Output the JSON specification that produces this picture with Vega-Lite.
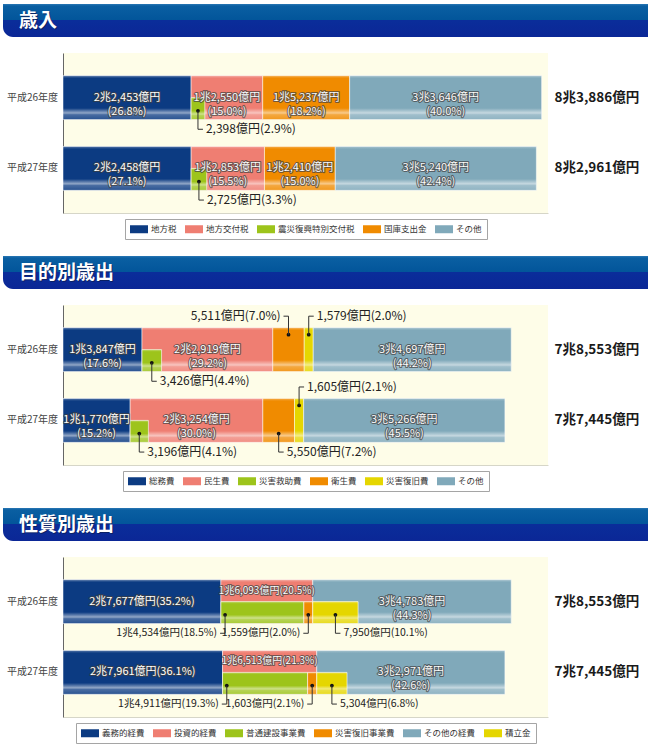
{
  "$schema": "https://vega.github.io/schema/vega-lite/v6.json",
  "description": "Revenue and expenditure composition for FY H26 and H27, three stacked-bar panels.",
  "padding": {"left": 3, "top": 4, "right": 2, "bottom": 0},
  "background": "#ffffff",
  "config": {
    "font": "Noto Sans CJK JP",
    "view": {"stroke": null},
    "legend": {
      "orient": "bottom",
      "direction": "horizontal",
      "symbolType": "M-1,-0.8H2.6V0.8H-1Z",
      "symbolSize": 100,
      "symbolStrokeWidth": 0,
      "labelFontSize": 8.5,
      "labelColor": "#333333",
      "labelOffset": 11,
      "columnPadding": 8,
      "padding": 5,
      "strokeColor": "#a5a5a5",
      "fillColor": "#ffffff",
      "offset": 6,
      "layout": {"bottom": {"anchor": "middle"}}
    }
  },
  "datasets": {
    "rev": [
      {"year": "平成26年度", "cat": "地方税", "value": 22453, "label": "2兆2,453億円\n(26.8%)", "strip": "main"},
      {"year": "平成26年度", "cat": "震災復興特別交付税", "value": 2398, "label": "2,398億円(2.9%)", "strip": "inset"},
      {"year": "平成26年度", "cat": "地方交付税", "value": 12550, "label": "1兆2,550億円\n(15.0%)", "strip": "main"},
      {"year": "平成26年度", "cat": "国庫支出金", "value": 15237, "label": "1兆5,237億円\n(18.2%)", "strip": "main"},
      {"year": "平成26年度", "cat": "その他", "value": 33646, "label": "3兆3,646億円\n(40.0%)", "strip": "main"},
      {"year": "平成27年度", "cat": "地方税", "value": 22458, "label": "2兆2,458億円\n(27.1%)", "strip": "main"},
      {"year": "平成27年度", "cat": "震災復興特別交付税", "value": 2725, "label": "2,725億円(3.3%)", "strip": "inset"},
      {"year": "平成27年度", "cat": "地方交付税", "value": 12853, "label": "1兆2,853億円\n(15.5%)", "strip": "main"},
      {"year": "平成27年度", "cat": "国庫支出金", "value": 12410, "label": "1兆2,410億円\n(15.0%)", "strip": "main"},
      {"year": "平成27年度", "cat": "その他", "value": 35240, "label": "3兆5,240億円\n(42.4%)", "strip": "main"}
    ],
    "revTotal": [
      {"year": "平成26年度", "total": 83886, "totalLabel": "8兆3,886億円"},
      {"year": "平成27年度", "total": 82961, "totalLabel": "8兆2,961億円"}
    ],
    "exp": [
      {"year": "平成26年度", "cat": "総務費", "value": 13847, "label": "1兆3,847億円\n(17.6%)", "strip": "main"},
      {"year": "平成26年度", "cat": "災害救助費", "value": 3426, "label": "3,426億円(4.4%)", "strip": "inset"},
      {"year": "平成26年度", "cat": "民生費", "value": 22919, "label": "2兆2,919億円\n(29.2%)", "strip": "main"},
      {"year": "平成26年度", "cat": "衛生費", "value": 5511, "label": "5,511億円(7.0%)", "strip": "main"},
      {"year": "平成26年度", "cat": "災害復旧費", "value": 1579, "label": "1,579億円(2.0%)", "strip": "main"},
      {"year": "平成26年度", "cat": "その他", "value": 34697, "label": "3兆4,697億円\n(44.2%)", "strip": "main"},
      {"year": "平成27年度", "cat": "総務費", "value": 11770, "label": "1兆1,770億円\n(15.2%)", "strip": "main"},
      {"year": "平成27年度", "cat": "災害救助費", "value": 3196, "label": "3,196億円(4.1%)", "strip": "inset"},
      {"year": "平成27年度", "cat": "民生費", "value": 23254, "label": "2兆3,254億円\n(30.0%)", "strip": "main"},
      {"year": "平成27年度", "cat": "衛生費", "value": 5550, "label": "5,550億円(7.2%)", "strip": "main"},
      {"year": "平成27年度", "cat": "災害復旧費", "value": 1605, "label": "1,605億円(2.1%)", "strip": "main"},
      {"year": "平成27年度", "cat": "その他", "value": 35266, "label": "3兆5,266億円\n(45.5%)", "strip": "main"}
    ],
    "expTotal": [
      {"year": "平成26年度", "total": 78553, "totalLabel": "7兆8,553億円"},
      {"year": "平成27年度", "total": 77445, "totalLabel": "7兆7,445億円"}
    ],
    "nat": [
      {"year": "平成26年度", "cat": "義務的経費", "value": 27677, "label": "2兆7,677億円(35.2%)", "strip": "main"},
      {"year": "平成26年度", "cat": "普通建設事業費", "value": 14534, "label": "1兆4,534億円(18.5%)", "strip": "inset"},
      {"year": "平成26年度", "cat": "災害復旧事業費", "value": 1559, "label": "1,559億円(2.0%)", "strip": "inset"},
      {"year": "平成26年度", "cat": "投資的経費", "value": 16093, "label": "1兆6,093億円(20.5%)", "strip": "main"},
      {"year": "平成26年度", "cat": "積立金", "value": 7950, "label": "7,950億円(10.1%)", "strip": "inset"},
      {"year": "平成26年度", "cat": "その他の経費", "value": 34783, "label": "3兆4,783億円\n(44.3%)", "strip": "main"},
      {"year": "平成27年度", "cat": "義務的経費", "value": 27961, "label": "2兆7,961億円(36.1%)", "strip": "main"},
      {"year": "平成27年度", "cat": "普通建設事業費", "value": 14911, "label": "1兆4,911億円(19.3%)", "strip": "inset"},
      {"year": "平成27年度", "cat": "災害復旧事業費", "value": 1603, "label": "1,603億円(2.1%)", "strip": "inset"},
      {"year": "平成27年度", "cat": "投資的経費", "value": 16513, "label": "1兆6,513億円(21.3%)", "strip": "main"},
      {"year": "平成27年度", "cat": "積立金", "value": 5304, "label": "5,304億円(6.8%)", "strip": "inset"},
      {"year": "平成27年度", "cat": "その他の経費", "value": 32971, "label": "3兆2,971億円\n(42.6%)", "strip": "main"}
    ],
    "natTotal": [
      {"year": "平成26年度", "total": 78553, "totalLabel": "7兆8,553億円"},
      {"year": "平成27年度", "total": 77445, "totalLabel": "7兆7,445億円"}
    ]
  },
  "spacing": 16,
  "vconcat": [
    {
      "width": 645, "height": 33,
      "data": {"values": [{"section": "歳入"}]},
      "layer": [
        {"mark": {"type": "rect", "cornerRadiusBottomLeft": 10, "fill": {"gradient": "linear", "x1": 0, "y1": 0, "x2": 0, "y2": 1, "stops": [{"offset": 0, "color": "#2a78b4"}, {"offset": 0.06, "color": "#0a5fa2"}, {"offset": 0.49, "color": "#02559a"}, {"offset": 0.5, "color": "#0a2d9a"}, {"offset": 1, "color": "#0b2796"}]}}, "encoding": {}},
        {"mark": {"type": "rect", "cornerRadiusBottomLeft": 10, "fill": {"gradient": "radial", "x1": 0.78, "y1": 0.8, "r1": 0, "x2": 0.78, "y2": 0.8, "r2": 0.2, "stops": [{"offset": 0, "color": "rgba(0,195,255,1)"}, {"offset": 0.4, "color": "rgba(0,140,235,0.65)"}, {"offset": 1, "color": "rgba(10,50,180,0)"}]}}, "encoding": {}},
        {"mark": {"type": "text", "align": "left", "baseline": "middle", "dx": 17, "dy": 1.5, "fontSize": 19, "fontWeight": "bold", "fill": "#0b1f5c", "opacity": 0.85}, "encoding": {"x": {"field": "section", "type": "nominal", "bandPosition": 0, "scale": {"type": "band", "paddingInner": 0, "paddingOuter": 0}, "axis": null}, "text": {"field": "section"}}},
        {"mark": {"type": "text", "align": "left", "baseline": "middle", "dx": 16, "fontSize": 19, "fontWeight": "bold", "fill": "#ffffff"}, "encoding": {"x": {"field": "section", "type": "nominal", "bandPosition": 0}, "text": {"field": "section"}}}
      ]
    },
    {
      "spacing": 0,
      "resolve": {"scale": {"y": "independent", "color": "independent"}, "legend": {"color": "independent"}},
      "hconcat": [
        {
          "width": 59, "height": 160,
          "data": {"name": "revTotal"},
          "mark": {"type": "text", "fontSize": 10, "fill": "#444444"},
          "encoding": {"y": {"field": "year", "type": "nominal", "scale": {"type": "band", "paddingInner": 0.38, "paddingOuter": 0.32}, "axis": null}, "text": {"field": "year"}}
        },
        {
          "width": 485, "height": 160,
          "view": {"fill": "#fefde8", "stroke": null},
          "resolve": {"scale": {"y": "independent"}, "axis": {"y": "independent"}},
          "layer": [
            {
              "data": {"name": "rev"},
              "transform": [{"window": [{"op": "row_number", "as": "idx"}], "groupby": ["year"]}],
              "layer": [
                {
                  "transform": [{"filter": "datum.strip === 'main'"}],
                  "mark": {"type": "bar", "opacity": 1, "stroke": "#ffffff", "strokeWidth": 1, "strokeOpacity": 0.5},
                  "encoding": {
                    "x": {"field": "value", "type": "quantitative", "stack": "zero", "scale": {"domain": [0, 85000], "nice": false}, "axis": {"labels": false, "ticks": false, "grid": false, "title": null, "domainColor": "#d6d6c8"}},
                    "y": {"field": "year", "type": "nominal", "scale": {"paddingInner": 0.38, "paddingOuter": 0.32}, "axis": {"labels": false, "ticks": false, "title": null, "domainColor": "#666666"}},
                    "color": {"field": "cat", "type": "nominal", "scale": {"domain": ["地方税", "地方交付税", "震災復興特別交付税", "国庫支出金", "その他"], "range": ["#0c3b82", "#ef7e72", "#9dc41b", "#f08b00", "#80a9ba"]}, "legend": {"title": null}},
                    "order": {"field": "idx", "type": "quantitative"}
                  }
                },
                {
                  "transform": [{"filter": "datum.strip === 'main'"}],
                  "mark": {"type": "bar", "fill": {"gradient": "linear", "x1": 0, "y1": 0, "x2": 0, "y2": 1, "stops": [{"offset": 0, "color": "rgba(255,255,255,0.3)"}, {"offset": 0.06, "color": "rgba(255,255,255,0)"}, {"offset": 0.74, "color": "rgba(255,255,255,0)"}, {"offset": 0.85, "color": "rgba(255,255,255,0.55)"}, {"offset": 0.89, "color": "rgba(255,255,255,0.25)"}, {"offset": 1, "color": "rgba(255,255,255,0.12)"}]}},
                  "encoding": {"x": {"field": "value", "type": "quantitative", "stack": "zero"}, "y": {"field": "year", "type": "nominal"}, "detail": {"field": "cat", "type": "nominal"}, "order": {"field": "idx", "type": "quantitative"}}
                },
                {
                  "transform": [{"filter": "datum.strip === 'inset' || datum.cat === '地方税'"}],
                  "mark": {"type": "bar", "stroke": "#ffffff", "strokeWidth": 1, "strokeOpacity": 0.6},
                  "encoding": {"x": {"field": "value", "type": "quantitative", "stack": "zero"}, "y": {"field": "year", "type": "nominal"}, "yOffset": {"datum": "inset", "type": "nominal", "scale": {"domain": ["main", "inset"], "paddingInner": 0, "paddingOuter": 0}}, "color": {"field": "cat", "type": "nominal"}, "order": {"field": "idx", "type": "quantitative"}, "opacity": {"condition": {"test": "datum.strip === 'main'", "value": 0}, "value": 1}}
                },
                {
                  "transform": [{"filter": "datum.strip === 'inset' || datum.cat === '地方税'"}],
                  "mark": {"type": "bar", "fill": {"gradient": "linear", "x1": 0, "y1": 0, "x2": 0, "y2": 1, "stops": [{"offset": 0, "color": "rgba(255,255,255,0.3)"}, {"offset": 0.1, "color": "rgba(255,255,255,0)"}, {"offset": 0.6, "color": "rgba(255,255,255,0)"}, {"offset": 0.75, "color": "rgba(255,255,255,0.5)"}, {"offset": 0.82, "color": "rgba(255,255,255,0.25)"}, {"offset": 1, "color": "rgba(255,255,255,0.12)"}]}},
                  "encoding": {"x": {"field": "value", "type": "quantitative", "stack": "zero"}, "y": {"field": "year", "type": "nominal"}, "yOffset": {"datum": "inset", "type": "nominal"}, "detail": {"field": "cat", "type": "nominal"}, "order": {"field": "idx", "type": "quantitative"}, "opacity": {"condition": {"test": "datum.strip === 'main'", "value": 0}, "value": 1}}
                },
                {
                  "transform": [{"filter": "datum.strip === 'main'"}],
                  "mark": {"type": "text", "lineBreak": "\n", "lineHeight": 14, "fontSize": 11, "baseline": "middle", "fill": "#404040", "stroke": "#404040", "strokeWidth": 2.2, "strokeJoin": "round", "strokeOpacity": 0.7},
                  "encoding": {"x": {"field": "value", "type": "quantitative", "stack": "zero", "bandPosition": 0.5}, "y": {"field": "year", "type": "nominal"}, "detail": {"field": "cat", "type": "nominal"}, "order": {"field": "idx", "type": "quantitative"}, "text": {"field": "label"}}
                },
                {
                  "transform": [{"filter": "datum.strip === 'main'"}],
                  "mark": {"type": "text", "lineBreak": "\n", "lineHeight": 14, "fontSize": 11, "baseline": "middle", "fill": "#ffffff"},
                  "encoding": {"x": {"field": "value", "type": "quantitative", "stack": "zero", "bandPosition": 0.5}, "y": {"field": "year", "type": "nominal"}, "detail": {"field": "cat", "type": "nominal"}, "order": {"field": "idx", "type": "quantitative"}, "text": {"field": "label"}}
                },
                {
                  "transform": [{"filter": "datum.strip === 'inset' || datum.cat === '地方税'"}],
                  "mark": {"type": "point", "shape": "circle", "filled": true, "fill": "#111111", "size": 14, "strokeWidth": 0},
                  "encoding": {"x": {"field": "value", "type": "quantitative", "stack": "zero", "bandPosition": 0.5}, "y": {"field": "year", "type": "nominal", "bandPosition": 0.8}, "detail": {"field": "cat", "type": "nominal"}, "order": {"field": "idx", "type": "quantitative"}, "opacity": {"condition": {"test": "datum.strip === 'inset'", "value": 1}, "value": 0}}
                },
                {
                  "transform": [{"filter": "datum.strip === 'inset' || datum.cat === '地方税'"}],
                  "mark": {"type": "point", "shape": "M0,0V1H0.27", "filled": false, "stroke": "#333333", "strokeWidth": 1, "size": 1369},
                  "encoding": {"x": {"field": "value", "type": "quantitative", "stack": "zero", "bandPosition": 0.5}, "y": {"field": "year", "type": "nominal", "bandPosition": 0.8}, "detail": {"field": "cat", "type": "nominal"}, "order": {"field": "idx", "type": "quantitative"}, "opacity": {"condition": {"test": "datum.strip === 'inset'", "value": 1}, "value": 0}}
                },
                {
                  "transform": [{"filter": "datum.strip === 'inset' || datum.cat === '地方税'"}],
                  "mark": {"type": "text", "align": "left", "baseline": "middle", "dx": 8, "fontSize": 12, "fill": "#222222"},
                  "encoding": {"x": {"field": "value", "type": "quantitative", "stack": "zero", "bandPosition": 0.5}, "y": {"field": "year", "type": "nominal", "bandPosition": 1.22}, "detail": {"field": "cat", "type": "nominal"}, "order": {"field": "idx", "type": "quantitative"}, "text": {"field": "label", "condition": {"test": "datum.strip === 'main'", "value": ""}}}
                }
              ]
            },
            {
              "data": {"name": "revTotal"},
              "mark": {"type": "bar", "opacity": 0},
              "encoding": {"y": {"field": "totalLabel", "type": "nominal", "sort": null, "scale": {"paddingInner": 0.38, "paddingOuter": 0.32}, "axis": {"orient": "right", "title": null, "ticks": false, "domain": false, "labelPadding": 6, "labelFontSize": 13.5, "labelFontWeight": "bold", "labelColor": "#1a1a1a"}}}
            }
          ]
        }
      ]
    },
    {
      "width": 645, "height": 33,
      "data": {"values": [{"section": "目的別歳出"}]},
      "layer": [
        {"mark": {"type": "rect", "cornerRadiusBottomLeft": 10, "fill": {"gradient": "linear", "x1": 0, "y1": 0, "x2": 0, "y2": 1, "stops": [{"offset": 0, "color": "#2a78b4"}, {"offset": 0.06, "color": "#0a5fa2"}, {"offset": 0.49, "color": "#02559a"}, {"offset": 0.5, "color": "#0a2d9a"}, {"offset": 1, "color": "#0b2796"}]}}, "encoding": {}},
        {"mark": {"type": "rect", "cornerRadiusBottomLeft": 10, "fill": {"gradient": "radial", "x1": 0.78, "y1": 0.8, "r1": 0, "x2": 0.78, "y2": 0.8, "r2": 0.2, "stops": [{"offset": 0, "color": "rgba(0,195,255,1)"}, {"offset": 0.4, "color": "rgba(0,140,235,0.65)"}, {"offset": 1, "color": "rgba(10,50,180,0)"}]}}, "encoding": {}},
        {"mark": {"type": "text", "align": "left", "baseline": "middle", "dx": 17, "dy": 1.5, "fontSize": 19, "fontWeight": "bold", "fill": "#0b1f5c", "opacity": 0.85}, "encoding": {"x": {"field": "section", "type": "nominal", "bandPosition": 0, "scale": {"type": "band", "paddingInner": 0, "paddingOuter": 0}, "axis": null}, "text": {"field": "section"}}},
        {"mark": {"type": "text", "align": "left", "baseline": "middle", "dx": 16, "fontSize": 19, "fontWeight": "bold", "fill": "#ffffff"}, "encoding": {"x": {"field": "section", "type": "nominal", "bandPosition": 0}, "text": {"field": "section"}}}
      ]
    },
    {
      "spacing": 0,
      "resolve": {"scale": {"y": "independent", "color": "independent"}, "legend": {"color": "independent"}},
      "hconcat": [
        {
          "width": 59, "height": 160,
          "data": {"name": "expTotal"},
          "mark": {"type": "text", "fontSize": 10, "fill": "#444444"},
          "encoding": {"y": {"field": "year", "type": "nominal", "scale": {"type": "band", "paddingInner": 0.38, "paddingOuter": 0.32}, "axis": null}, "text": {"field": "year"}}
        },
        {
          "width": 485, "height": 160,
          "view": {"fill": "#fefde8", "stroke": null},
          "resolve": {"scale": {"y": "independent"}, "axis": {"y": "independent"}},
          "layer": [
            {
              "data": {"name": "exp"},
              "transform": [{"window": [{"op": "row_number", "as": "idx"}], "groupby": ["year"]}],
              "layer": [
                {
                  "transform": [{"filter": "datum.strip === 'main'"}],
                  "mark": {"type": "bar", "opacity": 1, "stroke": "#ffffff", "strokeWidth": 1, "strokeOpacity": 0.5},
                  "encoding": {
                    "x": {"field": "value", "type": "quantitative", "stack": "zero", "scale": {"domain": [0, 85000], "nice": false}, "axis": {"labels": false, "ticks": false, "grid": false, "title": null, "domainColor": "#d6d6c8"}},
                    "y": {"field": "year", "type": "nominal", "scale": {"paddingInner": 0.38, "paddingOuter": 0.32}, "axis": {"labels": false, "ticks": false, "title": null, "domainColor": "#666666"}},
                    "color": {"field": "cat", "type": "nominal", "scale": {"domain": ["総務費", "民生費", "災害救助費", "衛生費", "災害復旧費", "その他"], "range": ["#0c3b82", "#ef7e72", "#9dc41b", "#f08b00", "#e5d600", "#80a9ba"]}, "legend": {"title": null}},
                    "order": {"field": "idx", "type": "quantitative"}
                  }
                },
                {
                  "transform": [{"filter": "datum.strip === 'main'"}],
                  "mark": {"type": "bar", "fill": {"gradient": "linear", "x1": 0, "y1": 0, "x2": 0, "y2": 1, "stops": [{"offset": 0, "color": "rgba(255,255,255,0.3)"}, {"offset": 0.06, "color": "rgba(255,255,255,0)"}, {"offset": 0.74, "color": "rgba(255,255,255,0)"}, {"offset": 0.85, "color": "rgba(255,255,255,0.55)"}, {"offset": 0.89, "color": "rgba(255,255,255,0.25)"}, {"offset": 1, "color": "rgba(255,255,255,0.12)"}]}},
                  "encoding": {"x": {"field": "value", "type": "quantitative", "stack": "zero"}, "y": {"field": "year", "type": "nominal"}, "detail": {"field": "cat", "type": "nominal"}, "order": {"field": "idx", "type": "quantitative"}}
                },
                {
                  "transform": [{"filter": "datum.strip === 'inset' || datum.cat === '総務費'"}],
                  "mark": {"type": "bar", "stroke": "#ffffff", "strokeWidth": 1, "strokeOpacity": 0.6},
                  "encoding": {"x": {"field": "value", "type": "quantitative", "stack": "zero"}, "y": {"field": "year", "type": "nominal"}, "yOffset": {"datum": "inset", "type": "nominal", "scale": {"domain": ["main", "inset"], "paddingInner": 0, "paddingOuter": 0}}, "color": {"field": "cat", "type": "nominal"}, "order": {"field": "idx", "type": "quantitative"}, "opacity": {"condition": {"test": "datum.strip === 'main'", "value": 0}, "value": 1}}
                },
                {
                  "transform": [{"filter": "datum.strip === 'inset' || datum.cat === '総務費'"}],
                  "mark": {"type": "bar", "fill": {"gradient": "linear", "x1": 0, "y1": 0, "x2": 0, "y2": 1, "stops": [{"offset": 0, "color": "rgba(255,255,255,0.3)"}, {"offset": 0.1, "color": "rgba(255,255,255,0)"}, {"offset": 0.6, "color": "rgba(255,255,255,0)"}, {"offset": 0.75, "color": "rgba(255,255,255,0.5)"}, {"offset": 0.82, "color": "rgba(255,255,255,0.25)"}, {"offset": 1, "color": "rgba(255,255,255,0.12)"}]}},
                  "encoding": {"x": {"field": "value", "type": "quantitative", "stack": "zero"}, "y": {"field": "year", "type": "nominal"}, "yOffset": {"datum": "inset", "type": "nominal"}, "detail": {"field": "cat", "type": "nominal"}, "order": {"field": "idx", "type": "quantitative"}, "opacity": {"condition": {"test": "datum.strip === 'main'", "value": 0}, "value": 1}}
                },
                {
                  "transform": [{"filter": "datum.strip === 'main'"}],
                  "mark": {"type": "text", "lineBreak": "\n", "lineHeight": 14, "fontSize": 11, "baseline": "middle", "fill": "#404040", "stroke": "#404040", "strokeWidth": 2.2, "strokeJoin": "round", "strokeOpacity": 0.7},
                  "encoding": {"x": {"field": "value", "type": "quantitative", "stack": "zero", "bandPosition": 0.5}, "y": {"field": "year", "type": "nominal"}, "detail": {"field": "cat", "type": "nominal"}, "order": {"field": "idx", "type": "quantitative"}, "text": {"field": "label", "condition": {"test": "datum.cat === '衛生費' || datum.cat === '災害復旧費'", "value": ""}}}
                },
                {
                  "transform": [{"filter": "datum.strip === 'main'"}],
                  "mark": {"type": "text", "lineBreak": "\n", "lineHeight": 14, "fontSize": 11, "baseline": "middle", "fill": "#ffffff"},
                  "encoding": {"x": {"field": "value", "type": "quantitative", "stack": "zero", "bandPosition": 0.5}, "y": {"field": "year", "type": "nominal"}, "detail": {"field": "cat", "type": "nominal"}, "order": {"field": "idx", "type": "quantitative"}, "text": {"field": "label", "condition": {"test": "datum.cat === '衛生費' || datum.cat === '災害復旧費'", "value": ""}}}
                },
                {
                  "transform": [{"filter": "datum.strip === 'inset' || datum.cat === '総務費'"}],
                  "mark": {"type": "point", "shape": "circle", "filled": true, "fill": "#111111", "size": 14, "strokeWidth": 0},
                  "encoding": {"x": {"field": "value", "type": "quantitative", "stack": "zero", "bandPosition": 0.5}, "y": {"field": "year", "type": "nominal", "bandPosition": 0.8}, "detail": {"field": "cat", "type": "nominal"}, "order": {"field": "idx", "type": "quantitative"}, "opacity": {"condition": {"test": "datum.strip === 'inset'", "value": 1}, "value": 0}}
                },
                {
                  "transform": [{"filter": "datum.strip === 'inset' || datum.cat === '総務費'"}],
                  "mark": {"type": "point", "shape": "M0,0V1H0.27", "filled": false, "stroke": "#333333", "strokeWidth": 1, "size": 1369},
                  "encoding": {"x": {"field": "value", "type": "quantitative", "stack": "zero", "bandPosition": 0.5}, "y": {"field": "year", "type": "nominal", "bandPosition": 0.8}, "detail": {"field": "cat", "type": "nominal"}, "order": {"field": "idx", "type": "quantitative"}, "opacity": {"condition": {"test": "datum.strip === 'inset'", "value": 1}, "value": 0}}
                },
                {
                  "transform": [{"filter": "datum.strip === 'inset' || datum.cat === '総務費'"}],
                  "mark": {"type": "text", "align": "left", "baseline": "middle", "dx": 8, "fontSize": 12, "fill": "#222222"},
                  "encoding": {"x": {"field": "value", "type": "quantitative", "stack": "zero", "bandPosition": 0.5}, "y": {"field": "year", "type": "nominal", "bandPosition": 1.22}, "detail": {"field": "cat", "type": "nominal"}, "order": {"field": "idx", "type": "quantitative"}, "text": {"field": "label", "condition": {"test": "datum.strip === 'main'", "value": ""}}}
                },
                {
                  "transform": [{"filter": "datum.strip === 'main'"}],
                  "mark": {"type": "point", "shape": "circle", "filled": true, "fill": "#111111", "size": 14, "strokeWidth": 0},
                  "encoding": {"x": {"field": "value", "type": "quantitative", "stack": "zero", "bandPosition": 0.5}, "y": {"field": "year", "type": "nominal", "bandPosition": 0.8}, "detail": {"field": "cat", "type": "nominal"}, "order": {"field": "idx", "type": "quantitative"}, "opacity": {"condition": {"test": "datum.year === '平成27年度' && datum.cat === '衛生費'", "value": 1}, "value": 0}}
                },
                {
                  "transform": [{"filter": "datum.strip === 'main'"}],
                  "mark": {"type": "point", "shape": "M0,0V1H0.27", "filled": false, "stroke": "#333333", "strokeWidth": 1, "size": 1369},
                  "encoding": {"x": {"field": "value", "type": "quantitative", "stack": "zero", "bandPosition": 0.5}, "y": {"field": "year", "type": "nominal", "bandPosition": 0.8}, "detail": {"field": "cat", "type": "nominal"}, "order": {"field": "idx", "type": "quantitative"}, "opacity": {"condition": {"test": "datum.year === '平成27年度' && datum.cat === '衛生費'", "value": 1}, "value": 0}}
                },
                {
                  "transform": [{"filter": "datum.strip === 'main'"}],
                  "mark": {"type": "text", "align": "left", "baseline": "middle", "dx": 8, "fontSize": 12, "fill": "#222222"},
                  "encoding": {"x": {"field": "value", "type": "quantitative", "stack": "zero", "bandPosition": 0.5}, "y": {"field": "year", "type": "nominal", "bandPosition": 1.22}, "detail": {"field": "cat", "type": "nominal"}, "order": {"field": "idx", "type": "quantitative"}, "text": {"field": "label", "condition": {"test": "!(datum.year === '平成27年度' && datum.cat === '衛生費')", "value": ""}}}
                },
                {
                  "transform": [{"filter": "datum.strip === 'main'"}],
                  "mark": {"type": "point", "shape": "circle", "filled": true, "fill": "#111111", "size": 14, "strokeWidth": 0},
                  "encoding": {"x": {"field": "value", "type": "quantitative", "stack": "zero", "bandPosition": 0.5}, "y": {"field": "year", "type": "nominal", "bandPosition": 0.16}, "detail": {"field": "cat", "type": "nominal"}, "order": {"field": "idx", "type": "quantitative"}, "opacity": {"condition": {"test": "(datum.year === '平成26年度' && datum.cat === '衛生費') || datum.cat === '災害復旧費'", "value": 1}, "value": 0}}
                },
                {
                  "transform": [{"filter": "datum.strip === 'main'"}],
                  "mark": {"type": "point", "shape": "M0,0V-1H-0.27", "filled": false, "stroke": "#333333", "strokeWidth": 1, "size": 1369},
                  "encoding": {"x": {"field": "value", "type": "quantitative", "stack": "zero", "bandPosition": 0.5}, "y": {"field": "year", "type": "nominal", "bandPosition": 0.16}, "detail": {"field": "cat", "type": "nominal"}, "order": {"field": "idx", "type": "quantitative"}, "opacity": {"condition": {"test": "datum.year === '平成26年度' && datum.cat === '衛生費'", "value": 1}, "value": 0}}
                },
                {
                  "transform": [{"filter": "datum.strip === 'main'"}],
                  "mark": {"type": "text", "align": "right", "baseline": "middle", "dx": -8, "fontSize": 12, "fill": "#222222"},
                  "encoding": {"x": {"field": "value", "type": "quantitative", "stack": "zero", "bandPosition": 0.5}, "y": {"field": "year", "type": "nominal", "bandPosition": -0.27}, "detail": {"field": "cat", "type": "nominal"}, "order": {"field": "idx", "type": "quantitative"}, "text": {"field": "label", "condition": {"test": "!(datum.year === '平成26年度' && datum.cat === '衛生費')", "value": ""}}}
                },
                {
                  "transform": [{"filter": "datum.strip === 'main'"}],
                  "mark": {"type": "point", "shape": "M0,0V-1H0.27", "filled": false, "stroke": "#333333", "strokeWidth": 1, "size": 1369},
                  "encoding": {"x": {"field": "value", "type": "quantitative", "stack": "zero", "bandPosition": 0.5}, "y": {"field": "year", "type": "nominal", "bandPosition": 0.16}, "detail": {"field": "cat", "type": "nominal"}, "order": {"field": "idx", "type": "quantitative"}, "opacity": {"condition": {"test": "datum.cat === '災害復旧費'", "value": 1}, "value": 0}}
                },
                {
                  "transform": [{"filter": "datum.strip === 'main'"}],
                  "mark": {"type": "text", "align": "left", "baseline": "middle", "dx": 8, "fontSize": 12, "fill": "#222222"},
                  "encoding": {"x": {"field": "value", "type": "quantitative", "stack": "zero", "bandPosition": 0.5}, "y": {"field": "year", "type": "nominal", "bandPosition": -0.27}, "detail": {"field": "cat", "type": "nominal"}, "order": {"field": "idx", "type": "quantitative"}, "text": {"field": "label", "condition": {"test": "datum.cat !== '災害復旧費'", "value": ""}}}
                }
              ]
            },
            {
              "data": {"name": "expTotal"},
              "mark": {"type": "bar", "opacity": 0},
              "encoding": {"y": {"field": "totalLabel", "type": "nominal", "sort": null, "scale": {"paddingInner": 0.38, "paddingOuter": 0.32}, "axis": {"orient": "right", "title": null, "ticks": false, "domain": false, "labelPadding": 6, "labelFontSize": 13.5, "labelFontWeight": "bold", "labelColor": "#1a1a1a"}}}
            }
          ]
        }
      ]
    },
    {
      "width": 645, "height": 33,
      "data": {"values": [{"section": "性質別歳出"}]},
      "layer": [
        {"mark": {"type": "rect", "cornerRadiusBottomLeft": 10, "fill": {"gradient": "linear", "x1": 0, "y1": 0, "x2": 0, "y2": 1, "stops": [{"offset": 0, "color": "#2a78b4"}, {"offset": 0.06, "color": "#0a5fa2"}, {"offset": 0.49, "color": "#02559a"}, {"offset": 0.5, "color": "#0a2d9a"}, {"offset": 1, "color": "#0b2796"}]}}, "encoding": {}},
        {"mark": {"type": "rect", "cornerRadiusBottomLeft": 10, "fill": {"gradient": "radial", "x1": 0.78, "y1": 0.8, "r1": 0, "x2": 0.78, "y2": 0.8, "r2": 0.2, "stops": [{"offset": 0, "color": "rgba(0,195,255,1)"}, {"offset": 0.4, "color": "rgba(0,140,235,0.65)"}, {"offset": 1, "color": "rgba(10,50,180,0)"}]}}, "encoding": {}},
        {"mark": {"type": "text", "align": "left", "baseline": "middle", "dx": 17, "dy": 1.5, "fontSize": 19, "fontWeight": "bold", "fill": "#0b1f5c", "opacity": 0.85}, "encoding": {"x": {"field": "section", "type": "nominal", "bandPosition": 0, "scale": {"type": "band", "paddingInner": 0, "paddingOuter": 0}, "axis": null}, "text": {"field": "section"}}},
        {"mark": {"type": "text", "align": "left", "baseline": "middle", "dx": 16, "fontSize": 19, "fontWeight": "bold", "fill": "#ffffff"}, "encoding": {"x": {"field": "section", "type": "nominal", "bandPosition": 0}, "text": {"field": "section"}}}
      ]
    },
    {
      "spacing": 0,
      "resolve": {"scale": {"y": "independent", "color": "independent"}, "legend": {"color": "independent"}},
      "hconcat": [
        {
          "width": 59, "height": 160,
          "data": {"name": "natTotal"},
          "mark": {"type": "text", "fontSize": 10, "fill": "#444444"},
          "encoding": {"y": {"field": "year", "type": "nominal", "scale": {"type": "band", "paddingInner": 0.38, "paddingOuter": 0.32}, "axis": null}, "text": {"field": "year"}}
        },
        {
          "width": 485, "height": 160,
          "view": {"fill": "#fefde8", "stroke": null},
          "resolve": {"scale": {"y": "independent"}, "axis": {"y": "independent"}},
          "layer": [
            {
              "data": {"name": "nat"},
              "transform": [{"window": [{"op": "row_number", "as": "idx"}], "groupby": ["year"]}],
              "layer": [
                {
                  "transform": [{"filter": "datum.strip === 'main'"}],
                  "mark": {"type": "bar", "opacity": 1, "stroke": "#ffffff", "strokeWidth": 1, "strokeOpacity": 0.5},
                  "encoding": {
                    "x": {"field": "value", "type": "quantitative", "stack": "zero", "scale": {"domain": [0, 85000], "nice": false}, "axis": {"labels": false, "ticks": false, "grid": false, "title": null, "domainColor": "#d6d6c8"}},
                    "y": {"field": "year", "type": "nominal", "scale": {"paddingInner": 0.38, "paddingOuter": 0.32}, "axis": {"labels": false, "ticks": false, "title": null, "domainColor": "#666666"}},
                    "color": {"field": "cat", "type": "nominal", "scale": {"domain": ["義務的経費", "投資的経費", "普通建設事業費", "災害復旧事業費", "その他の経費", "積立金"], "range": ["#0c3b82", "#ef7e72", "#9dc41b", "#f08b00", "#80a9ba", "#e5d600"]}, "legend": {"title": null}},
                    "order": {"field": "idx", "type": "quantitative"}
                  }
                },
                {
                  "transform": [{"filter": "datum.strip === 'main'"}],
                  "mark": {"type": "bar", "fill": {"gradient": "linear", "x1": 0, "y1": 0, "x2": 0, "y2": 1, "stops": [{"offset": 0, "color": "rgba(255,255,255,0.3)"}, {"offset": 0.06, "color": "rgba(255,255,255,0)"}, {"offset": 0.74, "color": "rgba(255,255,255,0)"}, {"offset": 0.85, "color": "rgba(255,255,255,0.55)"}, {"offset": 0.89, "color": "rgba(255,255,255,0.25)"}, {"offset": 1, "color": "rgba(255,255,255,0.12)"}]}},
                  "encoding": {"x": {"field": "value", "type": "quantitative", "stack": "zero"}, "y": {"field": "year", "type": "nominal"}, "detail": {"field": "cat", "type": "nominal"}, "order": {"field": "idx", "type": "quantitative"}}
                },
                {
                  "transform": [{"filter": "datum.strip === 'inset' || datum.cat === '義務的経費'"}],
                  "mark": {"type": "bar", "stroke": "#ffffff", "strokeWidth": 1, "strokeOpacity": 0.6},
                  "encoding": {"x": {"field": "value", "type": "quantitative", "stack": "zero"}, "y": {"field": "year", "type": "nominal"}, "yOffset": {"datum": "inset", "type": "nominal", "scale": {"domain": ["main", "inset"], "paddingInner": 0, "paddingOuter": 0}}, "color": {"field": "cat", "type": "nominal"}, "order": {"field": "idx", "type": "quantitative"}, "opacity": {"condition": {"test": "datum.strip === 'main'", "value": 0}, "value": 1}}
                },
                {
                  "transform": [{"filter": "datum.strip === 'inset' || datum.cat === '義務的経費'"}],
                  "mark": {"type": "bar", "fill": {"gradient": "linear", "x1": 0, "y1": 0, "x2": 0, "y2": 1, "stops": [{"offset": 0, "color": "rgba(255,255,255,0.3)"}, {"offset": 0.1, "color": "rgba(255,255,255,0)"}, {"offset": 0.6, "color": "rgba(255,255,255,0)"}, {"offset": 0.75, "color": "rgba(255,255,255,0.5)"}, {"offset": 0.82, "color": "rgba(255,255,255,0.25)"}, {"offset": 1, "color": "rgba(255,255,255,0.12)"}]}},
                  "encoding": {"x": {"field": "value", "type": "quantitative", "stack": "zero"}, "y": {"field": "year", "type": "nominal"}, "yOffset": {"datum": "inset", "type": "nominal"}, "detail": {"field": "cat", "type": "nominal"}, "order": {"field": "idx", "type": "quantitative"}, "opacity": {"condition": {"test": "datum.strip === 'main'", "value": 0}, "value": 1}}
                },
                {
                  "transform": [{"filter": "datum.strip === 'main'"}],
                  "mark": {"type": "text", "lineBreak": "\n", "lineHeight": 14, "fontSize": 11, "baseline": "middle", "fill": "#404040", "stroke": "#404040", "strokeWidth": 2.2, "strokeJoin": "round", "strokeOpacity": 0.7},
                  "encoding": {"x": {"field": "value", "type": "quantitative", "stack": "zero", "bandPosition": 0.5}, "y": {"field": "year", "type": "nominal"}, "detail": {"field": "cat", "type": "nominal"}, "order": {"field": "idx", "type": "quantitative"}, "text": {"field": "label", "condition": {"test": "datum.cat === '投資的経費'", "value": ""}}}
                },
                {
                  "transform": [{"filter": "datum.strip === 'main'"}],
                  "mark": {"type": "text", "lineBreak": "\n", "lineHeight": 14, "fontSize": 11, "baseline": "middle", "fill": "#ffffff"},
                  "encoding": {"x": {"field": "value", "type": "quantitative", "stack": "zero", "bandPosition": 0.5}, "y": {"field": "year", "type": "nominal"}, "detail": {"field": "cat", "type": "nominal"}, "order": {"field": "idx", "type": "quantitative"}, "text": {"field": "label", "condition": {"test": "datum.cat === '投資的経費'", "value": ""}}}
                },
                {
                  "transform": [{"filter": "datum.strip === 'main'"}],
                  "mark": {"type": "text", "fontSize": 10, "baseline": "middle", "fill": "#404040", "stroke": "#404040", "strokeWidth": 2, "strokeJoin": "round", "strokeOpacity": 0.7},
                  "encoding": {"x": {"field": "value", "type": "quantitative", "stack": "zero", "bandPosition": 0.5}, "y": {"field": "year", "type": "nominal", "bandPosition": 0.25}, "detail": {"field": "cat", "type": "nominal"}, "order": {"field": "idx", "type": "quantitative"}, "text": {"field": "label", "condition": {"test": "datum.cat !== '投資的経費'", "value": ""}}}
                },
                {
                  "transform": [{"filter": "datum.strip === 'main'"}],
                  "mark": {"type": "text", "fontSize": 10, "baseline": "middle", "fill": "#ffffff"},
                  "encoding": {"x": {"field": "value", "type": "quantitative", "stack": "zero", "bandPosition": 0.5}, "y": {"field": "year", "type": "nominal", "bandPosition": 0.25}, "detail": {"field": "cat", "type": "nominal"}, "order": {"field": "idx", "type": "quantitative"}, "text": {"field": "label", "condition": {"test": "datum.cat !== '投資的経費'", "value": ""}}}
                },
                {
                  "transform": [{"filter": "datum.strip === 'inset' || datum.cat === '義務的経費'"}],
                  "mark": {"type": "point", "shape": "circle", "filled": true, "fill": "#111111", "size": 14, "strokeWidth": 0},
                  "encoding": {"x": {"field": "value", "type": "quantitative", "stack": "zero", "bandPosition": 0.05}, "y": {"field": "year", "type": "nominal", "bandPosition": 0.8}, "detail": {"field": "cat", "type": "nominal"}, "order": {"field": "idx", "type": "quantitative"}, "opacity": {"condition": {"test": "datum.cat === '普通建設事業費'", "value": 1}, "value": 0}}
                },
                {
                  "transform": [{"filter": "datum.strip === 'inset' || datum.cat === '義務的経費'"}],
                  "mark": {"type": "point", "shape": "M0,0V1H-0.27", "filled": false, "stroke": "#333333", "strokeWidth": 1, "size": 1369},
                  "encoding": {"x": {"field": "value", "type": "quantitative", "stack": "zero", "bandPosition": 0.05}, "y": {"field": "year", "type": "nominal", "bandPosition": 0.8}, "detail": {"field": "cat", "type": "nominal"}, "order": {"field": "idx", "type": "quantitative"}, "opacity": {"condition": {"test": "datum.cat === '普通建設事業費'", "value": 1}, "value": 0}}
                },
                {
                  "transform": [{"filter": "datum.strip === 'inset' || datum.cat === '義務的経費'"}],
                  "mark": {"type": "text", "align": "right", "baseline": "middle", "dx": -8, "fontSize": 10.5, "fill": "#222222"},
                  "encoding": {"x": {"field": "value", "type": "quantitative", "stack": "zero", "bandPosition": 0.05}, "y": {"field": "year", "type": "nominal", "bandPosition": 1.22}, "detail": {"field": "cat", "type": "nominal"}, "order": {"field": "idx", "type": "quantitative"}, "text": {"field": "label", "condition": {"test": "datum.cat !== '普通建設事業費'", "value": ""}}}
                },
                {
                  "transform": [{"filter": "datum.strip === 'inset' || datum.cat === '義務的経費'"}],
                  "mark": {"type": "point", "shape": "circle", "filled": true, "fill": "#111111", "size": 14, "strokeWidth": 0},
                  "encoding": {"x": {"field": "value", "type": "quantitative", "stack": "zero", "bandPosition": 0.5}, "y": {"field": "year", "type": "nominal", "bandPosition": 0.8}, "detail": {"field": "cat", "type": "nominal"}, "order": {"field": "idx", "type": "quantitative"}, "opacity": {"condition": {"test": "datum.cat === '災害復旧事業費' || datum.cat === '積立金'", "value": 1}, "value": 0}}
                },
                {
                  "transform": [{"filter": "datum.strip === 'inset' || datum.cat === '義務的経費'"}],
                  "mark": {"type": "point", "shape": "M0,0V1H-0.27", "filled": false, "stroke": "#333333", "strokeWidth": 1, "size": 1369},
                  "encoding": {"x": {"field": "value", "type": "quantitative", "stack": "zero", "bandPosition": 0.5}, "y": {"field": "year", "type": "nominal", "bandPosition": 0.8}, "detail": {"field": "cat", "type": "nominal"}, "order": {"field": "idx", "type": "quantitative"}, "opacity": {"condition": {"test": "datum.cat === '災害復旧事業費'", "value": 1}, "value": 0}}
                },
                {
                  "transform": [{"filter": "datum.strip === 'inset' || datum.cat === '義務的経費'"}],
                  "mark": {"type": "text", "align": "right", "baseline": "middle", "dx": -8, "fontSize": 10.5, "fill": "#222222"},
                  "encoding": {"x": {"field": "value", "type": "quantitative", "stack": "zero", "bandPosition": 0.5}, "y": {"field": "year", "type": "nominal", "bandPosition": 1.22}, "detail": {"field": "cat", "type": "nominal"}, "order": {"field": "idx", "type": "quantitative"}, "text": {"field": "label", "condition": {"test": "datum.cat !== '災害復旧事業費'", "value": ""}}}
                },
                {
                  "transform": [{"filter": "datum.strip === 'inset' || datum.cat === '義務的経費'"}],
                  "mark": {"type": "point", "shape": "M0,0V1H0.27", "filled": false, "stroke": "#333333", "strokeWidth": 1, "size": 1369},
                  "encoding": {"x": {"field": "value", "type": "quantitative", "stack": "zero", "bandPosition": 0.5}, "y": {"field": "year", "type": "nominal", "bandPosition": 0.8}, "detail": {"field": "cat", "type": "nominal"}, "order": {"field": "idx", "type": "quantitative"}, "opacity": {"condition": {"test": "datum.cat === '積立金'", "value": 1}, "value": 0}}
                },
                {
                  "transform": [{"filter": "datum.strip === 'inset' || datum.cat === '義務的経費'"}],
                  "mark": {"type": "text", "align": "left", "baseline": "middle", "dx": 8, "fontSize": 10.5, "fill": "#222222"},
                  "encoding": {"x": {"field": "value", "type": "quantitative", "stack": "zero", "bandPosition": 0.5}, "y": {"field": "year", "type": "nominal", "bandPosition": 1.22}, "detail": {"field": "cat", "type": "nominal"}, "order": {"field": "idx", "type": "quantitative"}, "text": {"field": "label", "condition": {"test": "datum.cat !== '積立金'", "value": ""}}}
                }
              ]
            },
            {
              "data": {"name": "natTotal"},
              "mark": {"type": "bar", "opacity": 0},
              "encoding": {"y": {"field": "totalLabel", "type": "nominal", "sort": null, "scale": {"paddingInner": 0.38, "paddingOuter": 0.32}, "axis": {"orient": "right", "title": null, "ticks": false, "domain": false, "labelPadding": 6, "labelFontSize": 13.5, "labelFontWeight": "bold", "labelColor": "#1a1a1a"}}}
            }
          ]
        }
      ]
    }
  ],
  "resolve": {"scale": {"color": "independent", "x": "independent", "y": "independent"}, "legend": {"color": "independent"}}
}
